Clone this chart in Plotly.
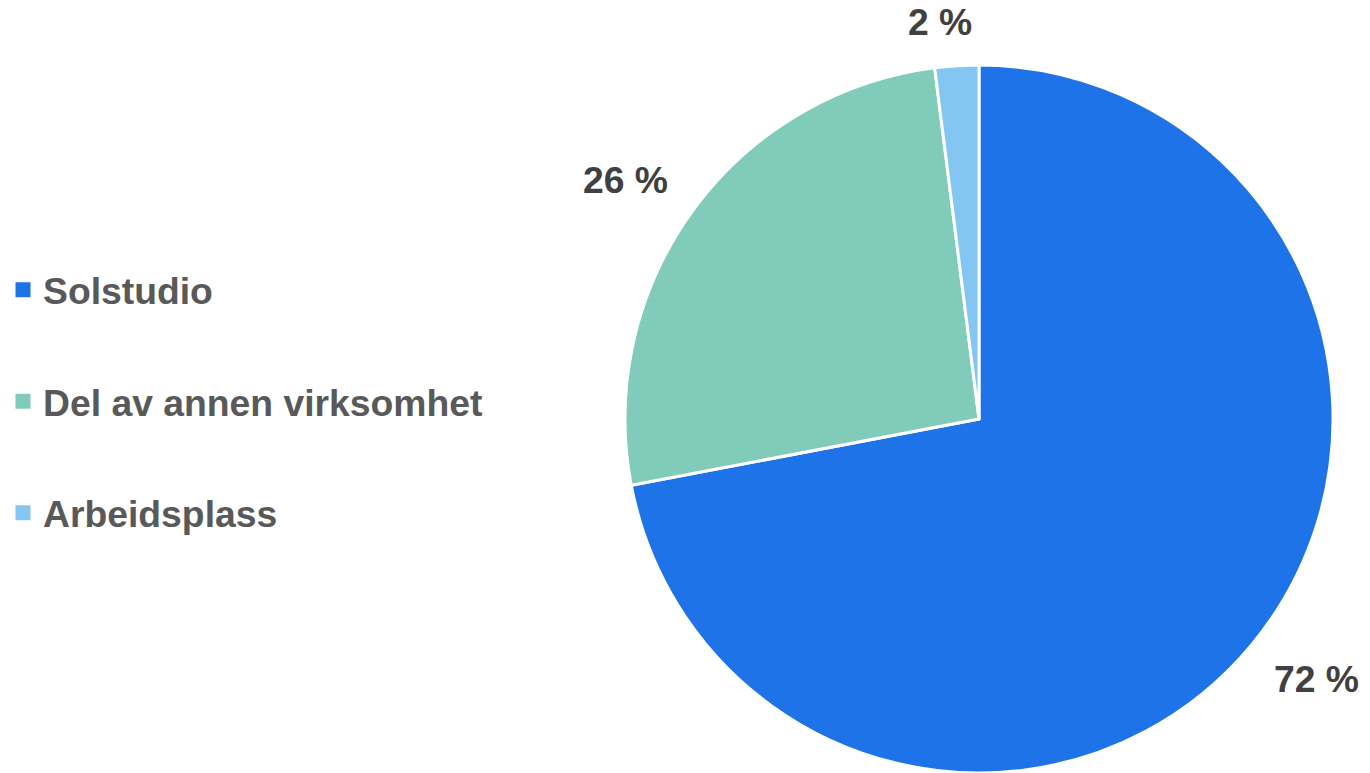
import math
import plotly.graph_objects as go

categories = ["Solstudio", "Del av annen virksomhet", "Arbeidsplass"]
values = [72, 26, 2]
colors = ["#1F73E8", "#80CBB9", "#83C6F2"]

W, H = 1370, 773
cx, cy, r = 979, 419, 354   # pie centre/radius in figure pixels
FONT = "Liberation Sans, Arial"
LBL_SIZE = 37.3

fig = go.Figure()
fig.add_trace(go.Pie(
    labels=categories,
    values=values,
    marker=dict(colors=colors, line=dict(color="white", width=3)),
    sort=False,
    direction="clockwise",
    rotation=0,
    textinfo="none",
    showlegend=False,
    hoverinfo="label+percent",
    automargin=False,
    domain=dict(x=[(cx - r) / W, (cx + r) / W], y=[1 - (cy + r) / H, 1 - (cy - r) / H]),
))

# outside value labels, placed along each slice's mid-angle
total = sum(values)
cum = 0
gap, hh, rot = 32, 11, math.radians(-2)
for v in values:
    mid = 2 * math.pi * (cum + v / 2) / total
    cum += v
    dx0, dy0 = math.sin(mid), -math.cos(mid)
    txt = f"{v} %"
    ndig = sum(ch.isdigit() for ch in txt)
    hw = LBL_SIZE * (0.556 * ndig + 0.278 + 0.889) / 2
    dist = r + gap + hw * abs(dx0) + hh * abs(dy0)
    a = mid + rot
    px, py = cx + dist * math.sin(a), cy - dist * math.cos(a)
    fig.add_annotation(
        x=px / W, y=1 - py / H, xref="paper", yref="paper",
        text=txt, showarrow=False, xanchor="center", yanchor="middle",
        font=dict(family=FONT, size=LBL_SIZE, color="#404040", weight="bold"),
    )

for cat, col in zip(categories, colors):
    fig.add_trace(go.Scatter(
        x=[None], y=[None], mode="markers", name=cat, legendgroup=cat,
        marker=dict(symbol="square", size=15, color=col),
    ))

fig.update_layout(
    width=W, height=H,
    margin=dict(l=0, r=0, t=0, b=0),
    paper_bgcolor="white", plot_bgcolor="white",
    xaxis=dict(visible=False), yaxis=dict(visible=False),
    legend=dict(
        x=3 / W, y=1 - 259 / H, xanchor="left", yanchor="top",
        font=dict(family=FONT, size=37.3, color="#595959", weight="bold"),
        tracegroupgap=60, traceorder="grouped",
        itemclick=False, itemdoubleclick=False,
    ),
)

fig.write_html(
    "out.html",
    config={"displayModeBar": False},
    post_script="document.body.style.margin='0';document.body.style.overflow='hidden';",
)
